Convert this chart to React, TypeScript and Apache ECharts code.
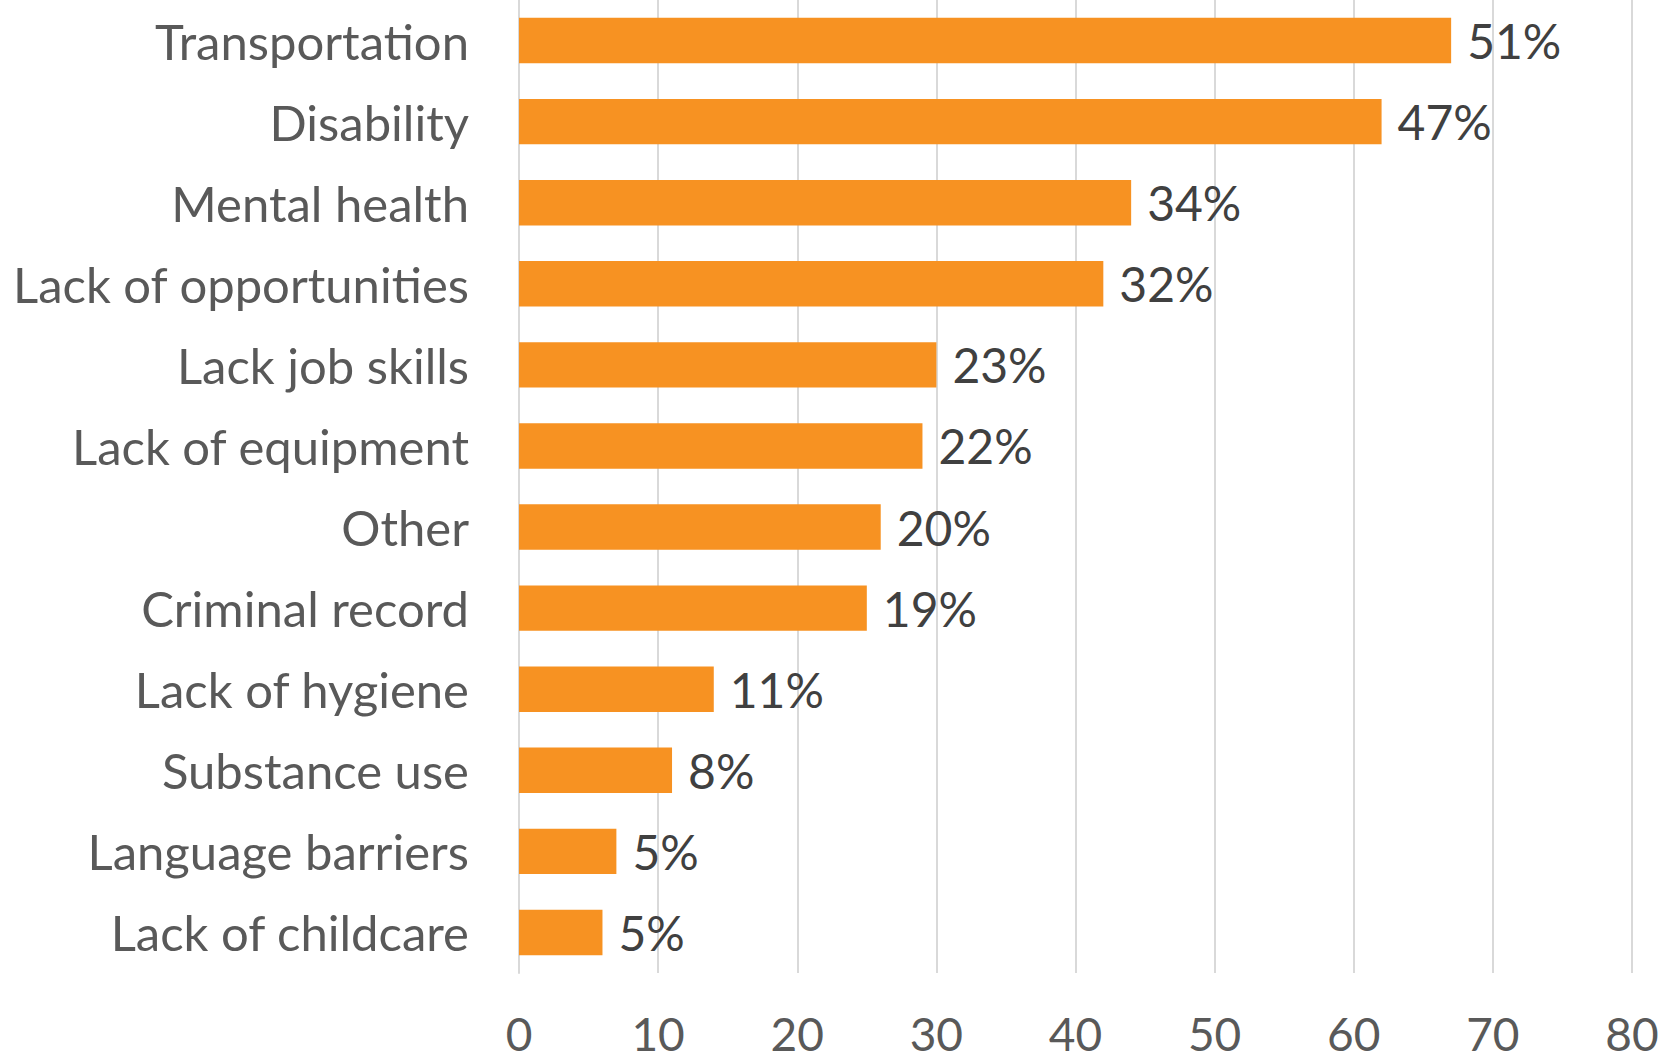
import React, { useEffect, useRef } from "react";
import * as echarts from "echarts";

const categories = [
  "Transportation",
  "Disability",
  "Mental health",
  "Lack of opportunities",
  "Lack job skills",
  "Lack of equipment",
  "Other",
  "Criminal record",
  "Lack of hygiene",
  "Substance use",
  "Language barriers",
  "Lack of childcare",
];
const barValues = [67, 62, 44, 42, 30, 29, 26, 25, 14, 11, 7, 6];
const barLabels = ["51%", "47%", "34%", "32%", "23%", "22%", "20%", "19%", "11%", "8%", "5%", "5%"];
const xTicks = [0, 10, 20, 30, 40, 50, 60, 70, 80];

const FONT = "Lato, 'Open Sans', sans-serif";

export default function App() {
  const ref = useRef<HTMLDivElement>(null);
  useEffect(() => {
    if (!ref.current) return;
    const chart = echarts.init(ref.current, undefined, { renderer: "svg" });
    chart.setOption({
      animation: false,
      backgroundColor: "#ffffff",
      grid: { left: 519, right: 33, top: -2, bottom: 91, containLabel: false },
      xAxis: {
        type: "value",
        min: xTicks[0],
        max: xTicks[xTicks.length - 1],
        interval: 10,
        axisLine: { show: false },
        axisTick: { show: false },
        splitLine: { show: true, lineStyle: { color: "#D9D9D9", width: 2 } },
        axisLabel: {
          color: "#595959",
          fontSize: 46,
          lineHeight: 46,
          fontFamily: FONT,
          margin: 37,
        },
      },
      yAxis: {
        type: "category",
        data: categories,
        inverse: true,
        axisLine: { show: true, lineStyle: { color: "#D9D9D9", width: 2 } },
        axisTick: { show: false },
        axisLabel: {
          color: "#595959",
          fontSize: 49,
          fontFamily: FONT,
          margin: 50,
        },
      },
      series: [
        {
          type: "bar",
          data: barValues,
          barCategoryGap: "44%",
          itemStyle: { color: "#F79222" },
          label: {
            show: true,
            position: "right",
            distance: 16,
            color: "#404040",
            fontSize: 48,
            fontFamily: FONT,
            formatter: (p: any) => barLabels[p.dataIndex],
          },
        },
      ],
    });
    return () => chart.dispose();
  }, []);
  return (
    <div
      ref={ref}
      style={{ position: "fixed", left: 0, top: 0, width: 1665, height: 1064 }}
    />
  );
}
